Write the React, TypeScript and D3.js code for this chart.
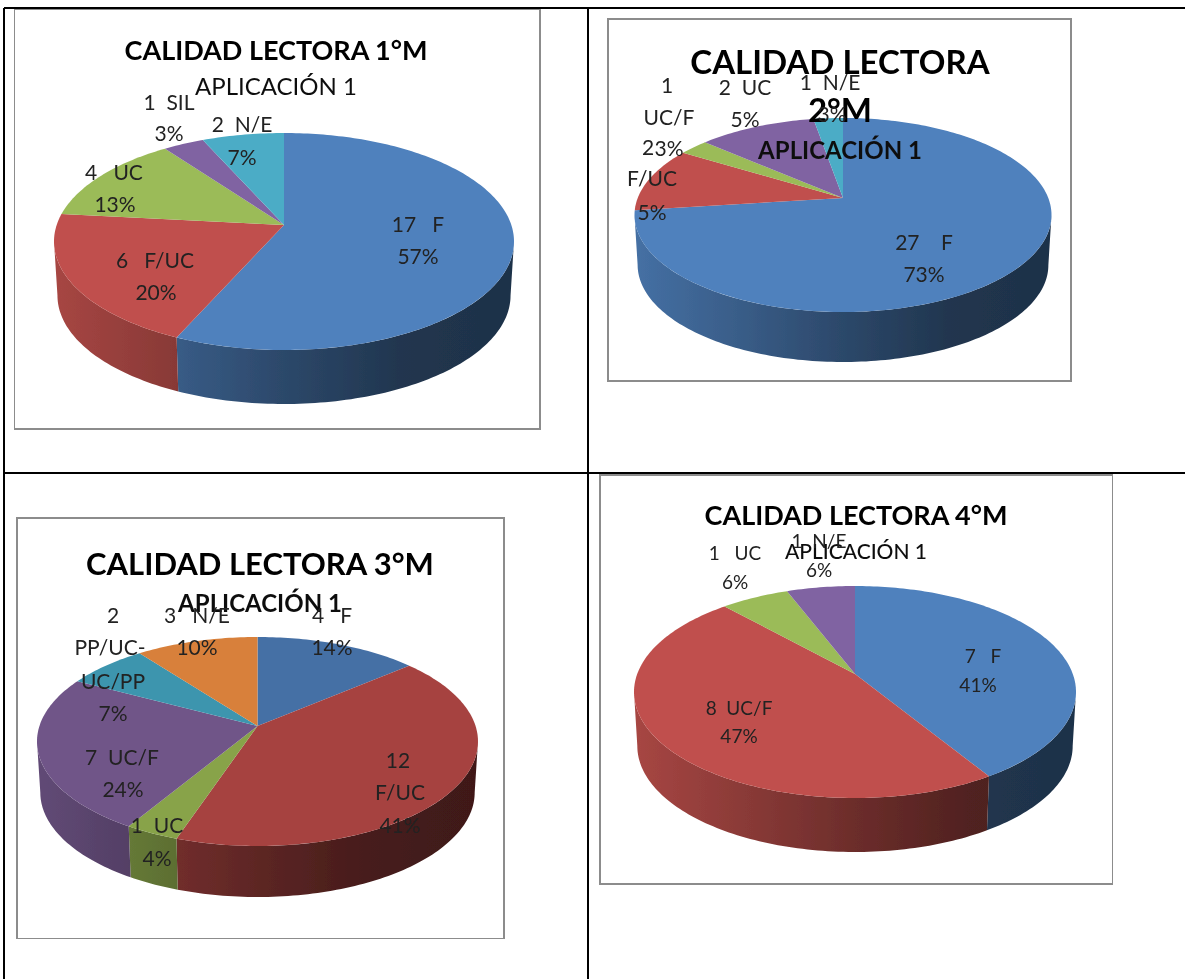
import React from 'react';
import * as d3 from 'd3';

// chart values
const values1 = [17, 6, 4, 1, 2];
const values2 = [27, 4, 1, 4, 1]; // slices as drawn, the labels of the original say otherwise
const values3 = [4, 12, 1, 7, 2, 3];
const values4 = [7, 8, 1, 1];

const colorsLight = ['#4f81bd', '#c0504d', '#9bbb59', '#8064a2', '#4bacc6'];
const colorsPie3 = ['#456fa5', '#a64341', '#88a34a', '#705588', '#3d95ae', '#d8803a'];
const colorsPie4 = ['#4f81bd', '#c0504d', '#9bbb59', '#8064a2'];

const title1 = ['CALIDAD LECTORA 1°M'];
const title2 = ['CALIDAD LECTORA', '2°M'];
const title3 = ['CALIDAD LECTORA 3°M'];
const title4 = ['CALIDAD LECTORA 4°M'];
const subtitle = 'APLICACIÓN 1';

// one entry per line: text, centre x, baseline y
const labels1: [string, number, number][] = [
  ['17   F', 418, 232], ['57%', 418, 264],
  ['6   F/UC', 155, 268], ['20%', 156, 300],
  ['4   UC', 114, 180], ['13%', 115, 212],
  ['1  SIL', 169, 110], ['3%', 169, 141],
  ['2  N/E', 242, 132], ['7%', 242, 165],
];
const labels2: [string, number, number][] = [
  ['27    F', 924, 250], ['73%', 924, 282],
  ['2', 648, 155], ['F/UC', 652, 186], ['5%', 652, 220],
  ['1', 667, 93], ['UC/F', 669, 125], ['3%', 669, 156],
  ['2  UC', 745, 95], ['5%', 745, 127],
  ['1  N/E', 830, 90], ['3%', 832, 122],
];
const labels3: [string, number, number][] = [
  ['4   F', 332, 623], ['14%', 332, 655],
  ['12', 398, 768], ['F/UC', 400, 800], ['41%', 400, 833],
  ['1  UC', 157, 833], ['4%', 157, 866],
  ['7  UC/F', 122, 765], ['24%', 123, 797],
  ['2', 113, 623], ['PP/UC-', 110, 655], ['UC/PP', 113, 689], ['7%', 113, 721],
  ['3   N/E', 197, 623], ['10%', 197, 655],
];
const labels4: [string, number, number][] = [
  ['7   F', 983, 663], ['41%', 978, 692],
  ['8  UC/F', 739, 715], ['47%', 739, 743],
  ['1   UC', 735, 560], ['6%', 735, 589],
  ['1  N/E', 819, 548], ['6%', 819, 577],
];

// layout of the four panels
const panels = [
  {
    values: values1, colors: colorsLight, labels: labels1, title: title1,
    box: [14, 9, 540, 429], cx: 284, apex: 225, R: 230, far: 92, near: 125, depth: 54,
    titleX: 276, titleY: [60], titleSize: 27, titleWeight: 700,
    subY: 95, subSize: 24, subWeight: 400, labelSize: 21,
  },
  {
    values: values2, colors: colorsLight, labels: labels2, title: title2,
    box: [608, 19, 1071, 381], cx: 843, apex: 198, R: 208.5, far: 80, near: 114, depth: 50,
    titleX: 840, titleY: [74, 122], titleSize: 33, titleWeight: 700,
    subY: 159, subSize: 24, subWeight: 700, labelSize: 21,
  },
  {
    values: values3, colors: colorsPie3, labels: labels3, title: title3,
    box: [17, 518, 504, 939], cx: 257.5, apex: 726, R: 220.5, far: 89, near: 120, depth: 51,
    titleX: 260, titleY: [575], titleSize: 31, titleWeight: 700,
    subY: 612, subSize: 24, subWeight: 700, labelSize: 21,
  },
  {
    values: values4, colors: colorsPie4, labels: labels4, title: title4,
    box: [600, 475, 1113, 884], cx: 855, apex: 674, R: 221, far: 88, near: 124, depth: 54,
    titleX: 856, titleY: [525], titleSize: 27, titleWeight: 700,
    subY: 559, subSize: 21, subWeight: 500, labelSize: 19,
  },
];

const tableLinesH = [[4, 8, 1185], [4, 473, 1185]];
const tableLinesV = [[4, 8, 979], [588, 8, 979]];

const wallStops: [number, number][] = [[0, 0.87], [0.25, 0.72], [0.5, 0.56], [0.75, 0.42], [1, 0.38]];

const shade = (color: string, f: number) => {
  const c = d3.rgb(color);
  return d3.rgb(c.r * f, c.g * f, c.b * f).formatHex();
};

const Pie3D = ({ panel, index }: { panel: typeof panels[number]; index: number }) => {
  const { cx, apex, R, far, near, depth } = panel;
  // projective squash of a circle, so the centre sits above the middle of the ellipse
  const p = (near - far) / (near + far);
  const b = far * (1 + p);
  const rx = R * Math.sqrt(1 - p * p);
  const project = (a: number): [number, number] => {
    const u = Math.sin(a);
    const v = -Math.cos(a);
    const w = 1 / (1 - p * v);
    return [cx + rx * u * w, apex + b * v * w];
  };
  const lower = ([x, y]: [number, number]): [number, number] => [cx + (x - cx) * 0.985, y + depth];
  const sample = (a0: number, a1: number) => d3.range(a0, a1, 0.02).concat([a1]);
  const line = d3.line();

  const arcs = d3.pie<number>().sort(null).value(d => d)(panel.values);
  // angles of the rim where the side wall can be seen
  const wallStart = Math.acos(-p);
  const wallEnd = 2 * Math.PI - wallStart;

  return (
    <g>
      <defs>
        {panel.colors.map((c, i) => (
          <linearGradient key={i} id={`wall-${index}-${i}`} gradientUnits="userSpaceOnUse"
            x1={cx - R} x2={cx + R} y1={0} y2={0}>
            {wallStops.map(([o, f]) => <stop key={o} offset={o} stopColor={shade(c, f)} />)}
          </linearGradient>
        ))}
      </defs>
      {arcs.map((d, i) => {
        const a0 = Math.max(d.startAngle, wallStart);
        const a1 = Math.min(d.endAngle, wallEnd);
        if (a1 <= a0) return null;
        const rim = sample(a0, a1).map(project);
        const pts = rim.concat(rim.slice().reverse().map(lower));
        return <path key={i} d={line(pts) + 'Z'} fill={`url(#wall-${index}-${i})`} />;
      })}
      {arcs.map((d, i) => {
        const pts: [number, number][] = [[cx, apex], ...sample(d.startAngle, d.endAngle).map(project)];
        return <path key={i} d={line(pts) + 'Z'} fill={panel.colors[i]} />;
      })}
    </g>
  );
};

const App = () => {
  const font = 'Lato, "Open Sans", sans-serif';
  return (
    <svg width={1185} height={979} viewBox="0 0 1185 979"
      style={{ position: 'absolute', left: 0, top: 0, display: 'block', background: '#fff' }}>
      <defs>
        <filter id="soft" x="0" y="0" width="100%" height="100%">
          <feGaussianBlur stdDeviation="0.45" />
        </filter>
      </defs>
      <g filter="url(#soft)" fontFamily={font} textAnchor="middle">
        {panels.map((panel, i) => (
          <rect key={i} x={panel.box[0]} y={panel.box[1]}
            width={panel.box[2] - panel.box[0]} height={panel.box[3] - panel.box[1]}
            fill="#fff" stroke="#8c8c8c" strokeWidth={2} />
        ))}
        {panels.map((panel, i) => <Pie3D key={i} panel={panel} index={i} />)}
        {panels.map((panel, i) => (
          <g key={i}>
            {panel.title.map((t, j) => (
              <text key={j} x={panel.titleX} y={panel.titleY[j]} fontSize={panel.titleSize}
                fontWeight={panel.titleWeight} fill="#000">{t}</text>
            ))}
            <text x={panel.titleX} y={panel.subY} fontSize={panel.subSize}
              fontWeight={panel.subWeight} fill="#111">{subtitle}</text>
            {panel.labels.map(([t, x, y], j) => (
              <text key={j} x={x} y={y} fontSize={panel.labelSize} fill="#222"
                style={{ whiteSpace: 'pre' }}>{t}</text>
            ))}
          </g>
        ))}
      </g>
      {tableLinesH.map(([x1, y, x2], i) => (
        <line key={i} x1={x1} x2={x2} y1={y} y2={y} stroke="#000" strokeWidth={2} />
      ))}
      {tableLinesV.map(([x, y1, y2], i) => (
        <line key={i} x1={x} x2={x} y1={y1} y2={y2} stroke="#000" strokeWidth={2} />
      ))}
    </svg>
  );
};

export default App;
